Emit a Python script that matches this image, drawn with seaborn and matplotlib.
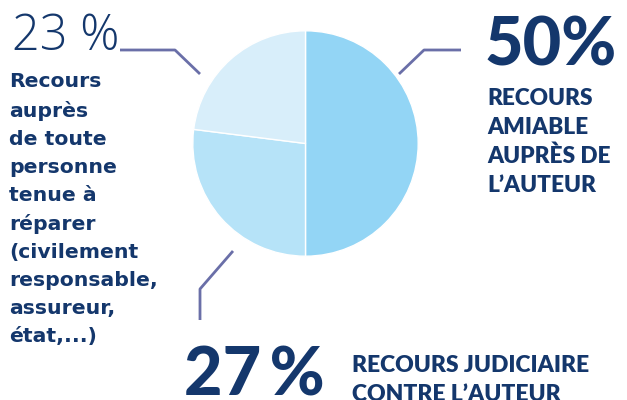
import matplotlib
matplotlib.use("Agg")
import matplotlib.pyplot as plt
import seaborn as sns

# données du graphique
parts = [50, 27, 23]
pct_labels = ["50%", "27\u2009%", "23 %"]
descriptions = [
    "RECOURS\nAMIABLE\nAUPRÈS DE\nL’AUTEUR",
    "RECOURS JUDICIAIRE\nCONTRE L’AUTEUR",
    "Recours\nauprès\nde toute\npersonne\ntenue à\nréparer\n(civilement\nresponsable,\nassureur,\nétat,...)",
]
colors = ["#93d5f5", "#b6e3f8", "#d8eefa"]

navy = "#14376c"
line_col = "#6a6fa8"

sns.set_theme(style="white")
plt.rcParams["font.family"] = ["Lato", "DejaVu Sans"]

W, H = 627, 400
fig = plt.figure(figsize=(W / 100, H / 100), dpi=100)

# fond en coordonnées pixels pour les textes et les traits de rappel
bg = fig.add_axes([0, 0, 1, 1])
bg.set_xlim(0, W)
bg.set_ylim(H, 0)
bg.axis("off")

# camembert
cx, cy, r = 305.5, 143.5, 112.7
ax = fig.add_axes([(cx - r) / W, (H - cy - r) / H, 2 * r / W, 2 * r / H])
ax.pie(parts, colors=colors, startangle=90, counterclock=False,
       wedgeprops=dict(edgecolor="white", linewidth=1))
ax.set_xlim(-1, 1)
ax.set_ylim(-1, 1)
ax.axis("off")

# traits de rappel
lw = 2
bg.plot([399, 424, 461], [74, 50, 50], color=line_col, lw=lw, solid_capstyle="butt")
bg.plot([233, 200, 200], [251, 289, 320], color=line_col, lw=lw, solid_capstyle="butt")
bg.plot([120, 175, 200], [50, 50, 74], color=line_col, lw=lw, solid_capstyle="butt")

# 50 %
bg.text(485, 65, pct_labels[0], fontsize=48, fontweight="black", color=navy,
        va="baseline", ha="left")
bg.text(487, 88, descriptions[0], fontsize=16.3, fontweight=800, color=navy,
        va="top", ha="left", linespacing=1.45)

# 27 %
bg.text(184, 396, pct_labels[1], fontsize=48, fontweight="black",
        color=navy, va="baseline", ha="left")
bg.text(352, 355, descriptions[1], fontsize=16.5, fontweight=800, color=navy,
        va="top", ha="left", linespacing=1.45)

# 23 %
bg.text(12, 50, pct_labels[2], fontsize=35, fontweight="light", color=navy,
        va="baseline", ha="left", family=["Open Sans", "DejaVu Sans"])
bg.text(9, 72, descriptions[2], fontsize=14.7, fontweight="bold", color=navy,
        va="top", ha="left", linespacing=1.6, family=["DejaVu Sans"])

fig.savefig("out.png", dpi=100)
